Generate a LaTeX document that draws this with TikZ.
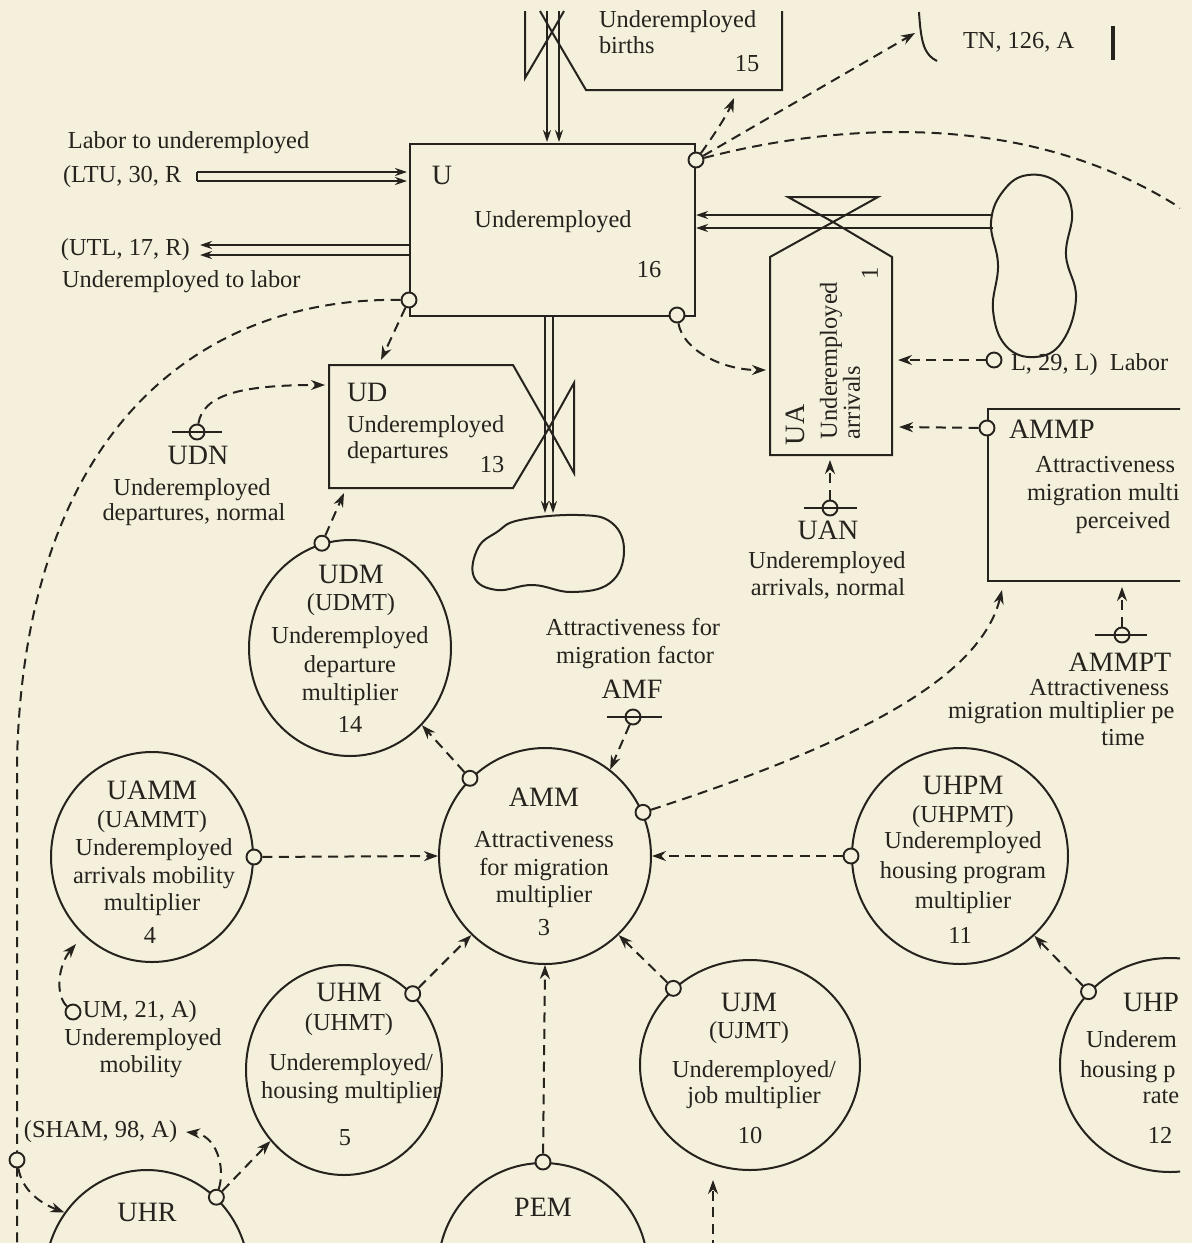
\documentclass[tikz,border=0pt]{standalone}
\usepackage{fontspec}
\setmainfont{Liberation Serif}
\usetikzlibrary{shapes.geometric,arrows.meta}
\definecolor{paper}{RGB}{245,240,219}
\definecolor{ink}{RGB}{38,34,30}
\newcommand\bodyfont{\fontsize{12.2pt}{14pt}\selectfont}
\newcommand\symfont{\fontsize{14pt}{16pt}\selectfont}
\begin{document}
\begin{tikzpicture}[x=0.5pt, y=-0.5pt, color=ink, line width=1pt,
  txt/.style={font=\bodyfont, inner sep=0pt, text height=8.5pt, text depth=2.7pt},
  sym/.style={font=\symfont, inner sep=0pt, text height=9.8pt, text depth=3pt},
  circ/.style={ellipse, draw, inner sep=0pt, line width=1pt},
  tap/.style={circle, draw, fill=paper, minimum size=7.5pt, inner sep=0pt, line width=0.95pt},
  info/.style={line width=1pt, dash pattern=on 5pt off 3.2pt, -{Stealth[length=7pt,width=5pt]}},
  link/.style={line width=1pt, dash pattern=on 5pt off 3.2pt},
  flow/.style={line width=0.95pt, -{Stealth[length=6pt,width=4pt]}},
  bar/.style={line width=1pt}]
\useasboundingbox (0,0) rectangle (1192,1243);
\fill[paper] (0,0) rectangle (1192,1243);
\begin{scope}
\clip (0,0) rectangle (1180,1243);

% ---------------- level U ----------------
\node[draw, rectangle, anchor=north west, inner sep=0pt, minimum width=142.5pt, minimum height=86pt, line width=1pt] (ubox) at (409,143) {};
\node[sym] (u-sym) at (442,178) {U};
\node[txt] (u-name) at (553,222) {Underemployed};
\node[txt] (u-num) at (649,272) {16};

% ---------------- births rate (top) ----------------
\coordinate (bv) at (552,32);
\draw[bar] (525,11) -- (525,78) -- (bv) -- (540,11);
\draw[bar] (564,11) -- (bv) -- (586,90) -- (782,90) -- (782,11);
\node[txt, anchor=west] (ub-1) at (598,22) {Underemployed};
\node[txt, anchor=west] (ub-2) at (598,48) {births};
\node[txt] (ub-n) at (747,66) {15};
\coordinate (bp1a) at (547,11); \coordinate (bp1b) at (547,142);
\coordinate (bp2a) at (559,11); \coordinate (bp2b) at (559,142);
\draw[flow] (bp1a) -- (bp1b);
\draw[flow] (bp2a) -- (bp2b);

% ---------------- LTU / UTL flows ----------------
\node[txt, anchor=west] (ltu-lbl) at (67,143) {Labor to underemployed};
\node[txt, anchor=west] (ltu-sym) at (62,177) {(LTU, 30, R};
\coordinate (ltu1a) at (197,172); \coordinate (ltu1b) at (407,172);
\coordinate (ltu2a) at (197,181); \coordinate (ltu2b) at (407,181);
\draw[bar] (ltu1a) -- (ltu2a);
\draw[flow] (ltu1a) -- (ltu1b);
\draw[flow] (ltu2a) -- (ltu2b);
\node[txt, anchor=west] (utl-sym) at (60,250) {(UTL, 17, R)};
\node[txt, anchor=west] (utl-lbl) at (61,282) {Underemployed to labor};
\coordinate (utl1a) at (409,245); \coordinate (utl1b) at (200,245);
\coordinate (utl2a) at (409,255); \coordinate (utl2b) at (200,255);
\draw[flow] (utl1a) -- (utl1b);
\draw[flow] (utl2a) -- (utl2b);

% ---------------- TN ----------------
\node[txt, anchor=west] (tn-lbl) at (962,43) {TN, 126, A};
\draw[bar] (919,12) .. controls (921,45) and (925,55) .. (937,61);
\draw[line width=2pt] (1113,26) -- (1113,60);
\coordinate (tn) at (915,33);

% ---------------- UA rate ----------------
\coordinate (uav) at (833,222);
\draw[bar] (788,197) -- (878,197) -- (uav) -- cycle;
\draw[bar] (770,455) -- (770,257) -- (uav) -- (892,257) -- (892,455) -- cycle;
\node[sym, rotate=90, anchor=west] (ua-sym) at (798,446) {UA};
\node[txt, rotate=90, anchor=west] (ua-1) at (831,440) {Underemployed};
\node[txt, rotate=90, anchor=west] (ua-2) at (854,440) {arrivals};
\node[txt, rotate=90] (ua-n) at (872,273) {1};
\draw[bar] plot[smooth cycle, tension=0.7] coordinates {(1028,175) (1058,183) (1072,212) (1066,255) (1076,298) (1062,342) (1035,357) (1006,346) (993,310) (998,265) (991,222) (1004,190)};
\coordinate (uap1a) at (993,215); \coordinate (uap1b) at (696,215);
\coordinate (uap2a) at (993,228); \coordinate (uap2b) at (696,228);
\draw[flow] (uap1a) -- (uap1b);
\draw[flow] (uap2a) -- (uap2b);
\coordinate (ua-l) at (766,370);
\coordinate (ua-r1) at (898,360);
\coordinate (ua-r2) at (899,427);
\coordinate (ua-b) at (830,460);

% ---------------- UD rate ----------------
\draw[bar] (329,365) -- (513,365) -- (549,428) -- (513,488) -- (329,488) -- cycle;
\draw[bar] (549,428) -- (574,383) -- (574,473) -- cycle;
\node[sym, anchor=west] (ud-sym) at (346,395) {UD};
\node[txt, anchor=west] (ud-1) at (346,427) {Underemployed};
\node[txt, anchor=west] (ud-2) at (346,453) {departures};
\node[txt] (ud-n) at (492,467) {13};
\coordinate (udp1a) at (545,316); \coordinate (udp1b) at (545,513);
\coordinate (udp2a) at (553,316); \coordinate (udp2b) at (553,513);
\draw[flow] (udp1a) -- (udp1b);
\draw[flow] (udp2a) -- (udp2b);
\draw[bar] plot[smooth cycle, tension=0.7] coordinates {(520,520) (578,515) (612,523) (624,552) (610,583) (572,592) (533,585) (497,590) (474,577) (478,548) (497,532)};
\coordinate (ud-t) at (381,360);
\coordinate (ud-l) at (325,385);
\coordinate (ud-b) at (344,493);

% ---------------- UDN ----------------
\node[tap] (udn-c) at (197,432) {};
\draw[bar] (172,432) -- (222,432);
\node[sym] (udn-s) at (198,458) {UDN};
\node[txt] (udn-1) at (192,490) {Underemployed};
\node[txt] (udn-2) at (194,515) {departures, normal};

% ---------------- UAN ----------------
\node[tap] (uan-c) at (830,508) {};
\draw[bar] (804,508) -- (857,508);
\node[sym] (uan-s) at (828,533) {UAN};
\node[txt] (uan-1) at (827,563) {Underemployed};
\node[txt] (uan-2) at (828,590) {arrivals, normal};

% ---------------- Labor ----------------
\node[tap] (labor-c) at (994,360) {};
\node[txt, anchor=west] (labor-lbl) at (1010,365) {L, 29, L)\ \ Labor};

% ---------------- AMMP ----------------
\node[draw, rectangle, anchor=north west, inner sep=0pt, minimum width=120pt, minimum height=86pt, line width=1pt] (ammp) at (987,408) {};
\node[tap] (ammp-tap) at (987,428) {};
\node[sym, anchor=west] (ammp-s) at (1008,432) {AMMP};
\node[txt, anchor=east] (ammp-1) at (1176,467) {Attractiveness};
\node[txt, anchor=west] (ammp-2) at (1026,495) {migration multi};
\node[txt] (ammp-3) at (1123,523) {perceived};
\coordinate (ammp-b) at (1122,587);
\coordinate (ammp-bl) at (1002,590);

% ---------------- AMMPT ----------------
\node[tap] (ammpt-c) at (1122,635) {};
\draw[bar] (1095,635) -- (1147,635);
\node[sym] (ammpt-s) at (1120,665) {AMMPT};
\node[txt, anchor=east] (ammpt-1) at (1170,690) {Attractiveness};
\node[txt, anchor=west] (ammpt-2) at (947,713) {migration multiplier pe};
\node[txt] (ammpt-3) at (1123,740) {time};

% ---------------- AMF ----------------
\node[txt] (amf-1) at (633,630) {Attractiveness for};
\node[txt] (amf-2) at (635,658) {migration factor};
\node[sym] (amf-s) at (632,692) {AMF};
\node[tap] (amf-c) at (633,717) {};
\draw[bar] (607,717) -- (662,717);

% ---------------- auxiliaries (circles) ----------------
\node[circ, minimum width=101pt, minimum height=108pt] (udm) at (350,648) {};
\node[sym] (udm-s) at (351,577) {UDM};
\node[txt] (udm-t) at (351,605) {(UDMT)};
\node[txt] (udm-1) at (350,638) {Underemployed};
\node[txt] (udm-2) at (350,667) {departure};
\node[txt] (udm-3) at (350,695) {multiplier};
\node[txt] (udm-n) at (350,727) {14};

\node[circ, minimum width=101pt, minimum height=105pt] (uamm) at (152,857) {};
\node[sym] (uamm-s) at (152,793) {UAMM};
\node[txt] (uamm-t) at (152,822) {(UAMMT)};
\node[txt] (uamm-1) at (154,850) {Underemployed};
\node[txt] (uamm-2) at (154,878) {arrivals mobility};
\node[txt] (uamm-3) at (152,905) {multiplier};
\node[txt] (uamm-n) at (150,938) {4};

\node[circ, minimum width=106pt, minimum height=108pt] (amm) at (545,856) {};
\node[sym] (amm-s) at (544,800) {AMM};
\node[txt] (amm-1) at (544,842) {Attractiveness};
\node[txt] (amm-2) at (544,870) {for migration};
\node[txt] (amm-3) at (544,897) {multiplier};
\node[txt] (amm-n) at (544,930) {3};

\node[circ, minimum width=108pt, minimum height=108pt] (uhpm) at (960,856) {};
\node[sym] (uhpm-s) at (963,788) {UHPM};
\node[txt] (uhpm-t) at (963,817) {(UHPMT)};
\node[txt] (uhpm-1) at (963,843) {Underemployed};
\node[txt] (uhpm-2) at (963,873) {housing program};
\node[txt] (uhpm-3) at (963,903) {multiplier};
\node[txt] (uhpm-n) at (960,938) {11};

\node[circ, minimum width=98pt, minimum height=105pt] (uhm) at (344,1070) {};
\node[sym] (uhm-s) at (349,995) {UHM};
\node[txt] (uhm-t) at (349,1025) {(UHMT)};
\node[txt] (uhm-1) at (351,1065) {Underemployed/};
\node[txt] (uhm-2) at (351,1093) {housing multiplier};
\node[txt] (uhm-n) at (345,1140) {5};

\node[circ, minimum width=110pt, minimum height=105pt] (ujm) at (750,1065) {};
\node[sym] (ujm-s) at (749,1005) {UJM};
\node[txt] (ujm-t) at (749,1033) {(UJMT)};
\node[txt] (ujm-1) at (754,1072) {Underemployed/};
\node[txt] (ujm-2) at (754,1098) {job multiplier};
\node[txt] (ujm-n) at (750,1138) {10};

\node[circ, minimum width=110pt, minimum height=107pt] (uhpr) at (1170,1065) {};
\node[sym, anchor=west] (uhpr-s) at (1122,1005) {UHP};
\node[txt, anchor=west] (uhpr-1) at (1085,1042) {Underem};
\node[txt, anchor=west] (uhpr-2) at (1079,1072) {housing p};
\node[txt] (uhpr-3) at (1161,1098) {rate};
\node[txt] (uhpr-n) at (1160,1138) {12};

\node[circ, minimum width=105pt, minimum height=107pt] (pem) at (543,1270) {};
\node[sym] (pem-s) at (543,1210) {PEM};

\node[circ, minimum width=102pt, minimum height=107pt] (uhr) at (147,1277) {};
\node[sym] (uhr-s) at (147,1215) {UHR};

% ---------------- UM, SHAM ----------------
\node[txt, anchor=west] (um-lbl) at (82,1012) {UM, 21, A)};
\node[txt] (um-1) at (143,1040) {Underemployed};
\node[txt] (um-2) at (141,1067) {mobility};
\node[txt, anchor=west] (sham-lbl) at (23,1132) {(SHAM, 98, A)};
\coordinate (sham-e) at (186,1132);
\coordinate (uamm-in) at (76,944);
\coordinate (ujm-in) at (713,1180);
\coordinate (bot-src) at (713,1250);

% ---------------- long links ----------------
\coordinate (left-mid) at (17,760);
\coordinate (left-bot) at (17,1250);
\coordinate (right-end) at (1205,225);
\coordinate (births-b) at (734,98);

% taps on levels and auxiliaries
\node[tap] (u-tr) at (696,160) {};
\node[tap] (u-bl) at (409,300) {};
\node[tap] (u-br) at (677,315) {};
\node[tap] (udm-tap) at (udm.105) {};
\node[tap] (amm-tl) at (amm.134) {};
\node[tap] (amm-tr) at (amm.24) {};
\node[tap] (uamm-tap) at (uamm.0) {};
\node[tap] (uhpm-tap) at (uhpm.180) {};
\node[tap] (uhm-tap) at (uhm.48) {};
\node[tap] (ujm-tap) at (ujm.135) {};
\node[tap] (uhpr-tap) at (uhpr.138) {};
\node[tap] (pem-tap) at (pem.90) {};
\node[tap] (uhr-tap) at (uhr.49) {};
\node[tap] (um-c) at (73,1012) {};

\draw[link] (u-bl) .. controls (200,297) and (25,430) .. (left-mid) -- (left-bot);
\node[tap] (left-tap) at (17,1160) {};
\draw[link] (u-tr) .. controls (850,120) and (1050,110) .. (right-end);

% ---------------- information links ----------------
\draw[info] (u-tr) .. controls (714,135) and (727,115) .. (births-b);
\draw[info] (u-tr) -- (tn);
\draw[info] (u-bl) -- (ud-t);
\draw[info] (u-br) .. controls (683,350) and (722,370) .. (ua-l);
\draw[info] (labor-c) -- (ua-r1);
\draw[info] (ammp-tap) -- (ua-r2);
\draw[info] (uan-c) -- (ua-b);
\draw[info] (udn-c) .. controls (203,395) and (240,385) .. (ud-l);
\draw[info] (udm-tap) -- (ud-b);
\draw[info] (amf-c) -- (amm.53);
\draw[info] (amm-tl) -- (udm.313);
\draw[info] (uamm-tap) -- (amm.180);
\draw[info] (uhpm-tap) -- (amm.0);
\draw[info] (amm-tr) .. controls (850,745) and (980,680) .. (ammp-bl);
\draw[info] (ammpt-c) -- (ammp-b);
\draw[info] (uhm-tap) -- (amm.227);
\draw[info] (ujm-tap) -- (amm.313);
\draw[info] (uhpr-tap) -- (uhpm.313);
\draw[info] (pem-tap) -- (amm.270);
\draw[info] (bot-src) -- (ujm-in);
\draw[info] (um-c) .. controls (55,995) and (58,965) .. (uamm-in);
\draw[info] (uhr-tap) -- (uhm.224);
\draw[info] (uhr-tap) .. controls (226,1165) and (215,1135) .. (sham-e);
\draw[info] (left-tap) .. controls (22,1190) and (40,1203) .. (uhr.142);
\end{scope}
\end{tikzpicture}
\end{document}
